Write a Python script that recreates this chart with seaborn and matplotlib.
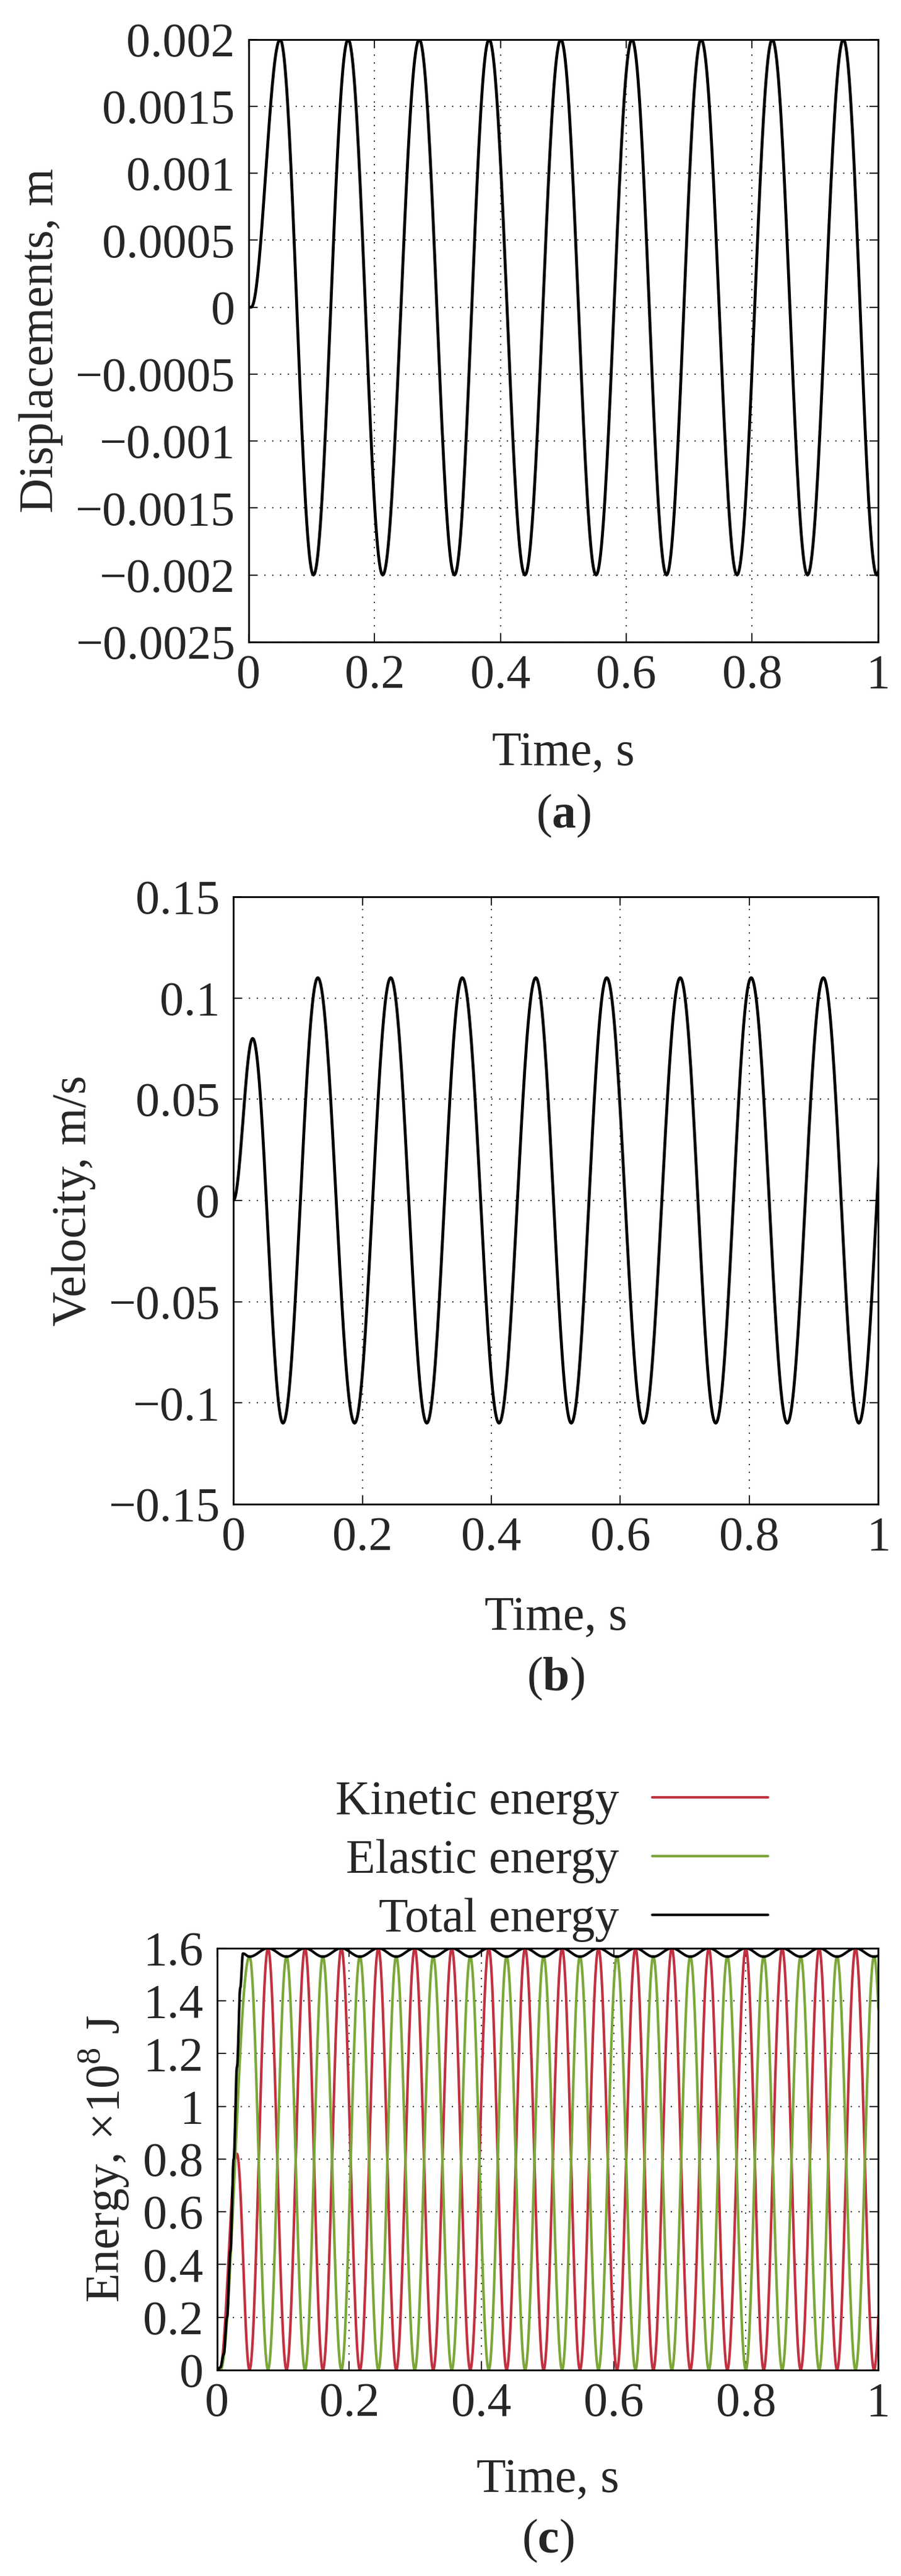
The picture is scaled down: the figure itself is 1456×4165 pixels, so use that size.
import numpy as np
import pandas as pd
import seaborn as sns
import matplotlib
matplotlib.use("Agg")
import matplotlib.pyplot as plt

# values: extrema (time, value) of each curve
disp_t = [0.0, 0.004, 0.050, 0.103, 0.158, 0.213, 0.271, 0.327, 0.382, 0.439, 0.496,
          0.552, 0.609, 0.664, 0.719, 0.776, 0.832, 0.888, 0.945, 0.998, 1.05]
disp_y = [0.0, 0.0, 0.002, -0.002, 0.002, -0.002, 0.002, -0.002, 0.002, -0.002, 0.002,
          -0.002, 0.002, -0.002, 0.002, -0.002, 0.002, -0.002, 0.002, -0.002, 0.002]

vel_t = [0.0, 0.030, 0.077, 0.131, 0.188, 0.244, 0.300, 0.355, 0.412, 0.469, 0.524,
         0.579, 0.636, 0.693, 0.748, 0.803, 0.859, 0.915, 0.970, 1.026]
vel_y = [0.0, 0.08, -0.11, 0.11, -0.11, 0.11, -0.11, 0.11, -0.11, 0.11, -0.11,
         0.11, -0.11, 0.11, -0.11, 0.11, -0.11, 0.11, -0.11, 0.11]

kin_t = [0.0, 0.004, 0.030, 0.049, 0.077, 0.105, 0.133, 0.160, 0.188, 0.216, 0.244,
         0.271, 0.299, 0.327, 0.355, 0.383, 0.411, 0.438, 0.466, 0.494, 0.522, 0.549,
         0.577, 0.605, 0.633, 0.660, 0.688, 0.716, 0.744, 0.772, 0.800, 0.827, 0.855,
         0.883, 0.911, 0.938, 0.966, 0.994, 1.022]
kin_y = [0.0, 0.0, 0.82, 0.0] + [1.6, 0.0] * 17 + [1.6]

ela_t = [0.0, 0.005, 0.049, 0.077, 0.105, 0.133, 0.160, 0.188, 0.216, 0.244, 0.271,
         0.299, 0.327, 0.355, 0.383, 0.411, 0.438, 0.466, 0.494, 0.522, 0.549, 0.577,
         0.605, 0.633, 0.660, 0.688, 0.716, 0.744, 0.772, 0.800, 0.827, 0.855, 0.883,
         0.911, 0.938, 0.966, 0.994, 1.022]
ela_y = [0.0, 0.0] + [1.57, 0.0] * 18

tot_t = [0.0, 0.005, 0.010, 0.015, 0.020, 0.025, 0.030, 0.035, 0.039, 0.049, 0.077,
         0.105, 0.133, 0.160, 0.188, 0.216, 0.244, 0.271, 0.299, 0.327, 0.355, 0.383,
         0.411, 0.438, 0.466, 0.494, 0.522, 0.549, 0.577, 0.605, 0.633, 0.660, 0.688,
         0.716, 0.744, 0.772, 0.800, 0.827, 0.855, 0.883, 0.911, 0.938, 0.966, 0.994, 1.022]
tot_y = [0.0, 0.01, 0.06, 0.2, 0.45, 0.8, 1.15, 1.45, 1.58, 1.568] + [1.6, 1.568] * 17 + [1.6]

disp_ticks = [-0.0025, -0.002, -0.0015, -0.001, -0.0005, 0, 0.0005, 0.001, 0.0015, 0.002]
disp_labels = ["\u22120.0025", "\u22120.002", "\u22120.0015", "\u22120.001", "\u22120.0005",
               "0", "0.0005", "0.001", "0.0015", "0.002"]
vel_ticks = [-0.15, -0.1, -0.05, 0, 0.05, 0.1, 0.15]
vel_labels = ["\u22120.15", "\u22120.1", "\u22120.05", "0", "0.05", "0.1", "0.15"]
en_ticks = [0, 0.2, 0.4, 0.6, 0.8, 1.0, 1.2, 1.4, 1.6]
en_labels = ["0", "0.2", "0.4", "0.6", "0.8", "1", "1.2", "1.4", "1.6"]
time_ticks = [0, 0.2, 0.4, 0.6, 0.8, 1.0]
time_labels = ["0", "0.2", "0.4", "0.6", "0.8", "1"]


def smooth(te, ye, n=40):
    # half-cosine joins between the read extrema
    ts, ys = [], []
    for i in range(len(te) - 1):
        s = np.linspace(0, 1, n, endpoint=False)
        w = (1 - np.cos(np.pi * s)) / 2
        ts.append(te[i] + (te[i + 1] - te[i]) * s)
        ys.append(ye[i] + (ye[i + 1] - ye[i]) * w)
    ts.append([te[-1]])
    ys.append([ye[-1]])
    return np.concatenate(ts), np.concatenate(ys)


sns.set_style("ticks")
plt.rcParams['font.family'] = ['Liberation Serif', 'DejaVu Serif']
plt.rcParams['mathtext.fontset'] = 'custom'
plt.rcParams['mathtext.rm'] = 'Liberation Serif'
plt.rcParams['mathtext.bf'] = 'Liberation Serif:bold'
FS = 56

fig = plt.figure(figsize=(14.56, 41.65), dpi=100)
ax_a = fig.add_axes([0.276, 0.7508, 0.6985, 0.2339])
ax_b = fig.add_axes([0.259, 0.4161, 0.7157, 0.2358])
ax_c = fig.add_axes([0.241, 0.0800, 0.7335, 0.1637])


def style(ax, yt, yl, ylim, ylabel):
    ax.set_xlim(0, 1)
    ax.set_ylim(*ylim)
    ax.set_xticks(time_ticks)
    ax.set_xticklabels(time_labels, family="Liberation Serif")
    ax.set_yticks(yt)
    ax.set_yticklabels(yl, family="Liberation Serif")
    ax.tick_params(direction="in", length=10, width=1.5, top=True, right=True,
                   labelsize=FS)
    ax.tick_params(axis="y", pad=16)
    ax.tick_params(axis="x", pad=14)
    ax.grid(True, color="black", linestyle=(0, (1, 6)), linewidth=1.3)
    for sp in ax.spines.values():
        sp.set_linewidth(2)
        sp.set_color("black")
    ax.set_ylabel(ylabel, fontsize=FS, labelpad=14)
    ax.set_xlabel("")


t, y = smooth(disp_t, disp_y)
sns.lineplot(x=t, y=y, ax=ax_a, color="black", linewidth=3.4)
style(ax_a, disp_ticks, disp_labels, (-0.0025, 0.002), "Displacements, m")

t, y = smooth(vel_t, vel_y)
sns.lineplot(x=t, y=y, ax=ax_b, color="black", linewidth=3.4)
style(ax_b, vel_ticks, vel_labels, (-0.15, 0.15), "Velocity, m/s")

t, y = smooth(kin_t, kin_y, 30)
sns.lineplot(x=t, y=y, ax=ax_c, color="#C0313F", linewidth=3.0, label="Kinetic energy")
t, y = smooth(ela_t, ela_y, 30)
sns.lineplot(x=t, y=y, ax=ax_c, color="#7BA73A", linewidth=3.0, label="Elastic energy")
t, y = smooth(tot_t, tot_y, 30)
sns.lineplot(x=t, y=y, ax=ax_c, color="black", linewidth=3.0, label="Total energy")
style(ax_c, en_ticks, en_labels, (0, 1.6), "Energy, $\\times 10^8$ J")
ax_c.legend(loc="upper right", bbox_to_anchor=(1280 / 1456, 1 - 2840 / 4165),
            bbox_transform=fig.transFigure, frameon=False, markerfirst=False,
            fontsize=FS, handlelength=2.4, handletextpad=0.7, labelspacing=0.3,
            borderpad=0)

for yy, lab in [(1218, "Time, s"), (1319, "($\\mathbf{a}$)")]:
    fig.text((402 + 1419) / 2 / 1456, 1 - yy / 4165, lab, ha="center", va="center", fontsize=FS)
for yy, lab in [(2616, "Time, s"), (2714, "($\\mathbf{b}$)")]:
    fig.text((377 + 1419) / 2 / 1456, 1 - yy / 4165, lab, ha="center", va="center", fontsize=FS)
for yy, lab in [(4010, "Time, s"), (4108, "($\\mathbf{c}$)")]:
    fig.text((351 + 1419) / 2 / 1456, 1 - yy / 4165, lab, ha="center", va="center", fontsize=FS)

fig.savefig("out.png", dpi=100)
